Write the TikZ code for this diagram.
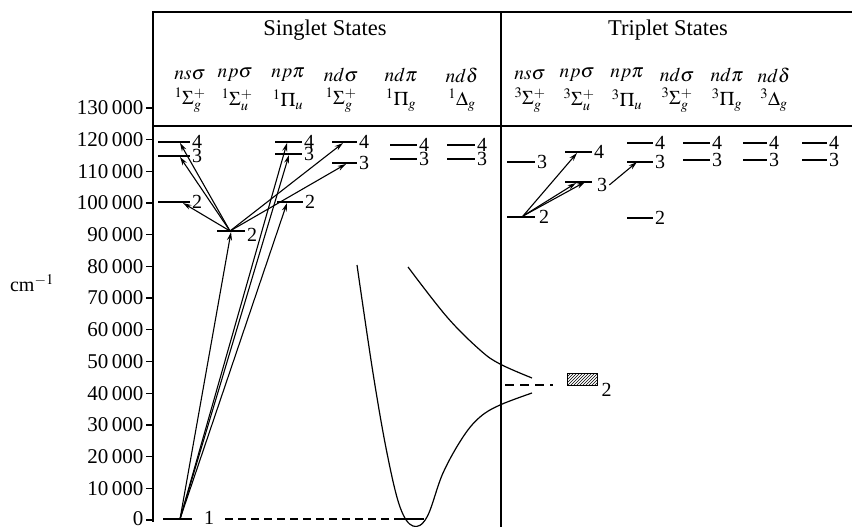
\documentclass[tikz,border=0pt]{standalone}
\usepackage{mathptmx}
\usepackage[no-math]{fontspec}
\setmainfont{Liberation Serif}
\usetikzlibrary{arrows.meta,patterns}

\begin{document}
\begin{tikzpicture}[
  x=1pt,y=-1pt,
  font=\fontsize{20}{22}\selectfont,
  frame/.style={line width=1.3pt},
  lvl/.style={line width=1.3pt},
  num/.style={right,inner sep=1.5pt},
  tick/.style={left,inner sep=2pt,font=\fontsize{21}{22}\selectfont},
  arr/.style={-{Stealth[length=8.5pt,width=5pt]},line width=1.1pt},
  pot/.style={line width=1.2pt},
  head/.style={font=\fontsize{22.5}{24}\selectfont},
  orb/.style={inner sep=0pt,font=\fontsize{19.5}{20}\selectfont},
]
\useasboundingbox (0,0) rectangle (852,527);

% 框
\draw[frame] (852,12) -- (153,12) -- (153,522);
\draw[frame] (153,126) -- (852,126);
\draw[frame] (501,12) -- (501,527);
\node[head] (sing) at (325,30) {Singlet States};
\node[head] (trip) at (668,30) {Triplet States};

% 纵轴
\node (unit) at (32,283) {cm$^{-1}$};
\draw[frame] (153,520.0) -- (146,520.0) node[tick,yshift=1pt] (y0) {0};
\draw[frame] (153,488.3) -- (146,488.3) node[tick] (y1) {10\,000};
\draw[frame] (153,456.6) -- (146,456.6) node[tick] (y2) {20\,000};
\draw[frame] (153,424.9) -- (146,424.9) node[tick] (y3) {30\,000};
\draw[frame] (153,393.2) -- (146,393.2) node[tick] (y4) {40\,000};
\draw[frame] (153,361.5) -- (146,361.5) node[tick] (y5) {50\,000};
\draw[frame] (153,329.8) -- (146,329.8) node[tick] (y6) {60\,000};
\draw[frame] (153,298.1) -- (146,298.1) node[tick] (y7) {70\,000};
\draw[frame] (153,266.4) -- (146,266.4) node[tick] (y8) {80\,000};
\draw[frame] (153,234.7) -- (146,234.7) node[tick] (y9) {90\,000};
\draw[frame] (153,203.0) -- (146,203.0) node[tick] (y10) {100\,000};
\draw[frame] (153,171.3) -- (146,171.3) node[tick] (y11) {110\,000};
\draw[frame] (153,139.6) -- (146,139.6) node[tick] (y12) {120\,000};
\draw[frame] (153,107.9) -- (146,107.9) node[tick] (y13) {130\,000};

% 单重态 列标题
\node[orb] (so1) at (190,75) {$ns\sigma$};
\node[orb] (so2) at (235,75) {$np\sigma$};
\node[orb] (so3) at (288,75) {$np\pi$};
\node[orb] (so4) at (341,75) {$nd\sigma$};
\node[orb] (so5) at (401,75) {$nd\pi$};
\node[orb] (so6) at (462,75) {$nd\delta$};
\node[orb] (ss1) at (190,100) {$^1\Sigma_g^+$};
\node[orb] (ss2) at (237,100) {$^1\Sigma_u^+$};
\node[orb] (ss3) at (288,100) {$^1\Pi_u$};
\node[orb] (ss4) at (341,100) {$^1\Sigma_g^+$};
\node[orb] (ss5) at (401,100) {$^1\Pi_g$};
\node[orb] (ss6) at (462,100) {$^1\Delta_g$};

% 三重态 列标题
\node[orb] (to1) at (530,75) {$ns\sigma$};
\node[orb] (to2) at (577,75) {$np\sigma$};
\node[orb] (to3) at (627,75) {$np\pi$};
\node[orb] (to4) at (677,75) {$nd\sigma$};
\node[orb] (to5) at (727,75) {$nd\pi$};
\node[orb] (to6) at (774,75) {$nd\delta$};
\node[orb] (ts1) at (530,100) {$^3\Sigma_g^+$};
\node[orb] (ts2) at (579,100) {$^3\Sigma_u^+$};
\node[orb] (ts3) at (627,100) {$^3\Pi_u$};
\node[orb] (ts4) at (677,100) {$^3\Sigma_g^+$};
\node[orb] (ts5) at (727,100) {$^3\Pi_g$};
\node[orb] (ts6) at (774,100) {$^3\Delta_g$};

% 单重态 能级
\draw[lvl] (163,519) -- (192,519) node[num,xshift=10pt,yshift=1pt] (sg1) {1};
\draw[lvl] (158,142) -- (190,142) node[num] (sns4) {4};
\draw[lvl] (158,156) -- (190,156) node[num] (sns3) {3};
\draw[lvl] (158,202) -- (190,202) node[num] (sns2) {2};
\draw[lvl] (217,231) -- (245,231) node[num,yshift=-4pt] (spsig2) {2};
\draw[lvl] (275,142) -- (302,142) node[num] (sppi4) {4};
\draw[lvl] (275,154) -- (302,154) node[num] (sppi3) {3};
\draw[lvl] (277,202) -- (303,202) node[num] (sppi2) {2};
\draw[lvl] (332,142) -- (357,142) node[num] (sdsig4) {4};
\draw[lvl] (332,163) -- (357,163) node[num] (sdsig3) {3};
\draw[lvl] (390,145) -- (417,145) node[num] (sdpi4) {4};
\draw[lvl] (390,159) -- (417,159) node[num] (sdpi3) {3};
\draw[lvl] (447,145) -- (475,145) node[num] (sdde4) {4};
\draw[lvl] (447,159) -- (475,159) node[num] (sdde3) {3};

\coordinate (g) at (180,519);
\coordinate (p2) at (230,231);
\coordinate (p2in) at (231,232);
\coordinate (ns4) at (180,143);
\coordinate (ns3) at (180,157);
\coordinate (ns2) at (183,203);
\coordinate (pi4) at (287,143);
\coordinate (pi3) at (289,155);
\coordinate (pi2) at (287,203);
\coordinate (ds4) at (343,143);
\coordinate (ds3) at (346,164);

\draw[arr] (g) -- (p2in);
\draw[arr] (g) -- (pi2);
\draw[arr] (g) -- (pi3);
\draw[arr] (g) -- (pi4);
\draw[arr] (p2) -- (ns4);
\draw[arr] (p2) -- (ns3);
\draw[arr] (p2) -- (ns2);
\draw[arr] (p2) -- (ds4);
\draw[arr] (p2) -- (ds3);

% 位能曲线
\draw[lvl,dash pattern=on 8pt off 5pt] (225,519) -- (402,519);
\draw[lvl] (402,519) -- (424,519);
\draw[pot] plot[smooth,tension=0.6] coordinates {(357,265) (373,373) (387,453) (400,507) (413,526) (427,517) (443,473) (463,437) (480,417) (500,405) (532,393)};
\draw[pot] plot[smooth,tension=0.6] coordinates {(408,267) (447,317) (480,350) (500,364) (532,378)};

% 三重态 能级
\draw[lvl] (507,162) -- (535,162) node[num] (tns3) {3};
\draw[lvl] (507,217) -- (535,217) node[num,xshift=2pt] (tns2) {2};
\draw[lvl] (565,152) -- (592,152) node[num] (tpsig4) {4};
\draw[lvl] (565,182) -- (592,182) node[num,yshift=-3pt,xshift=3pt] (tpsig3) {3};
\draw[lvl] (627,143) -- (653,143) node[num] (tppi4) {4};
\draw[lvl] (627,162) -- (653,162) node[num] (tppi3) {3};
\draw[lvl] (627,218) -- (653,218) node[num] (tppi2) {2};
\draw[lvl] (683,143) -- (710,143) node[num] (tdsig4) {4};
\draw[lvl] (683,160) -- (710,160) node[num] (tdsig3) {3};
\draw[lvl] (743,143) -- (767,143) node[num] (tdpi4) {4};
\draw[lvl] (743,160) -- (767,160) node[num] (tdpi3) {3};
\draw[lvl] (802,143) -- (827,143) node[num] (tdde4) {4};
\draw[lvl] (802,160) -- (827,160) node[num] (tdde3) {3};

\coordinate (t2) at (523,216);
\coordinate (tp4) at (577,153);
\coordinate (tp3a) at (576,183);
\coordinate (tp3b) at (585,182);
\coordinate (tpi3) at (637,162);

\draw[arr] (t2) -- (tp4);
\draw[arr] (t2) -- (tp3a);
\draw[arr] (t2) -- (tp3b);
\draw[arr] (tpsig3.east) -- (tpi3);

% 离解极限
\draw[lvl,dash pattern=on 9pt off 6pt] (505,385) -- (553,385);
\draw[line width=0.8pt,pattern=north east lines] (567,373) rectangle (597,385);
\node[num] (lim2) at (600,390) {2};

\end{tikzpicture}
\end{document}
